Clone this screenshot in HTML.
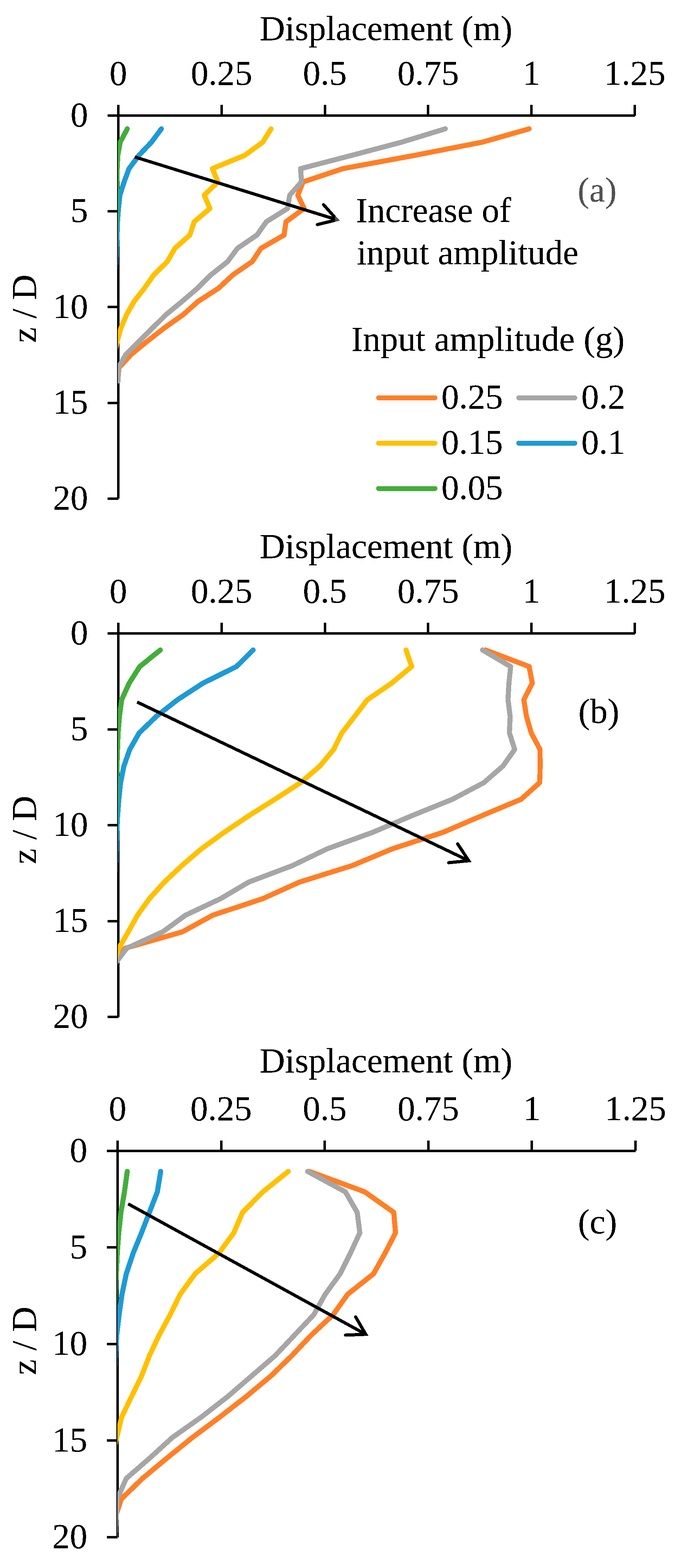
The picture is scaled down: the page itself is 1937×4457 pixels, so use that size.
<!DOCTYPE html>
<html lang="en">
<head>
<meta charset="utf-8">
<title>Displacement profiles</title>
<style>
html,body{margin:0;padding:0;background:#fff;}
body{width:1937px;height:4457px;overflow:hidden;}
svg{display:block;}
text{font-family:'Liberation Serif', serif;font-size:100px;fill:#000;}
</style>
</head>
<body>
<svg width="1937" height="4457" viewBox="0 0 1937 4457">
<defs>
<filter id="crisp" x="0" y="0" width="100%" height="100%" filterUnits="userSpaceOnUse" color-interpolation-filters="sRGB">
<feComponentTransfer><feFuncA type="discrete" tableValues="0 0 1 1 1"/></feComponentTransfer>
</filter>
<pattern id="dither" x="0" y="0" width="4" height="4" patternUnits="userSpaceOnUse">
<rect x="1" y="1" width="1" height="1" fill="#fff"/>
<rect x="3" y="1" width="1" height="1" fill="#fff"/>
<rect x="1" y="3" width="1" height="1" fill="#fff"/>
<rect x="3" y="3" width="1" height="1" fill="#fff"/>
<rect x="0" y="0" width="1" height="1" fill="#fff"/>
</pattern>
</defs>
<rect width="1937" height="4457" fill="#fff"/>
<g id="chart-a">
<g stroke="#000" stroke-width="7" fill="none" shape-rendering="crispEdges">
<line x1="306" y1="328.5" x2="1805.5" y2="328.5"/>
<line x1="336.5" y1="298" x2="336.5" y2="1417.2"/>
<line x1="630.3" y1="298" x2="630.3" y2="328.5"/>
<line x1="924.1" y1="298" x2="924.1" y2="328.5"/>
<line x1="1217.9" y1="298" x2="1217.9" y2="328.5"/>
<line x1="1511.7" y1="298" x2="1511.7" y2="328.5"/>
<line x1="1805.5" y1="298" x2="1805.5" y2="328.5"/>
<line x1="306" y1="600.67" x2="336.5" y2="600.67"/>
<line x1="306" y1="872.85" x2="336.5" y2="872.85"/>
<line x1="306" y1="1145.03" x2="336.5" y2="1145.03"/>
<line x1="306" y1="1417.2" x2="336.5" y2="1417.2"/>
</g>
<clipPath id="clip-a"><rect x="335.2" y="328.5" width="1600" height="1094.7"/></clipPath>
<g clip-path="url(#clip-a)" fill="none" stroke-width="14.5" stroke-linecap="round" stroke-linejoin="round" shape-rendering="crispEdges">
<polyline stroke="#FF7F27" points="1505,366.23 1372.5,403.96 1179,441.69 975,479.42 862,517.15 847,554.88 865,592.61 813.5,630.34 808,668.07 742.5,705.8 717.5,743.53 662.5,781.26 622,818.99 563.5,856.72 521,894.45 467.5,932.18 419,969.91 373,1007.64 338.5,1045.37 335,1083.1"/>
<polyline stroke="#A6A6A6" points="1266.5,366.23 1143,403.96 1000,441.69 855,479.42 857.5,517.15 824,554.88 818,592.61 757.5,630.34 731,668.07 675.5,705.8 647.5,743.53 600,781.26 562,818.99 518,856.72 472,894.45 434,932.18 396,969.91 358,1007.64 336.5,1045.37 336,1083.1"/>
<polyline stroke="#FFC000" points="771,366.23 747.5,403.96 696,441.69 604,479.42 620,517.15 581,554.88 597,592.61 552.5,630.34 540,668.07 497.5,705.8 476,743.53 437.5,781.26 411,818.99 381.5,856.72 360,894.45 344,932.18 333.4,969.91 325.5,1007.64 325,1045.37 325,1083.1"/>
<polyline stroke="#1E9AD6" points="459,366.23 431,403.96 395,441.69 367,479.42 353,517.15 341,554.88 337,592.61 334.1,630.34 333,668.07 331,705.8 329.9,743.53 327,781.26 326,818.99 326,856.72 326,894.45 326,932.18 326,969.91 326,1007.64 326,1045.37 326,1083.1"/>
<polyline stroke="#43AE3B" points="362,366.23 342,403.96 335,441.69 333.25,479.42 332.2,517.15 331.25,554.88 331.2,592.61 330.3,630.34 329.4,668.07 329,705.8 327.5,743.53 326,781.26 326,818.99 326,856.72 326,894.45 326,932.18 326,969.91 326,1007.64 326,1045.37 326,1083.1"/>
</g>
<line x1="383.5" y1="446.2" x2="958.65" y2="624.72" stroke="#000" stroke-width="9" stroke-linecap="butt" shape-rendering="crispEdges"/>
<polyline points="920.33,581.85 958.65,624.72 902.81,638.43" fill="none" stroke="#000" stroke-width="9" stroke-linecap="round" stroke-linejoin="miter" stroke-miterlimit="10" shape-rendering="crispEdges"/>
</g>
<g id="chart-b">
<g stroke="#000" stroke-width="7" fill="none" shape-rendering="crispEdges">
<line x1="306" y1="1800.5" x2="1805.5" y2="1800.5"/>
<line x1="336.5" y1="1770" x2="336.5" y2="2890.5"/>
<line x1="630.3" y1="1770" x2="630.3" y2="1800.5"/>
<line x1="924.1" y1="1770" x2="924.1" y2="1800.5"/>
<line x1="1217.9" y1="1770" x2="1217.9" y2="1800.5"/>
<line x1="1511.7" y1="1770" x2="1511.7" y2="1800.5"/>
<line x1="1805.5" y1="1770" x2="1805.5" y2="1800.5"/>
<line x1="306" y1="2073" x2="336.5" y2="2073"/>
<line x1="306" y1="2345.5" x2="336.5" y2="2345.5"/>
<line x1="306" y1="2618" x2="336.5" y2="2618"/>
<line x1="306" y1="2890.5" x2="336.5" y2="2890.5"/>
</g>
<clipPath id="clip-b"><rect x="335.2" y="1800.5" width="1600" height="1096"/></clipPath>
<g clip-path="url(#clip-b)" fill="none" stroke-width="14.5" stroke-linecap="round" stroke-linejoin="round" shape-rendering="crispEdges">
<polyline stroke="#FF7F27" points="1381,1847.62 1505,1894.74 1514,1941.86 1490,1988.98 1497.5,2036.1 1511,2083.22 1536,2130.34 1536.5,2177.46 1535,2224.58 1482.5,2271.7 1370,2318.82 1260,2365.94 1115,2413.06 1002.5,2460.18 852,2507.3 747.5,2554.42 605,2601.54 519,2648.66 355,2695.78 322,2742.9"/>
<polyline stroke="#A6A6A6" points="1372.5,1847.62 1452.5,1894.74 1447.5,1941.86 1445,1988.98 1451,2036.1 1449,2083.22 1464,2130.34 1430.5,2177.46 1376.5,2224.58 1287.5,2271.7 1171,2318.82 1060,2365.94 930,2413.06 832.5,2460.18 707.5,2507.3 627.5,2554.42 527.5,2601.54 463,2648.66 360,2695.78 325,2742.9"/>
<polyline stroke="#FFC000" points="1155,1847.62 1171,1894.74 1114,1941.86 1045,1988.98 1009,2036.1 972.5,2083.22 949,2130.34 910,2177.46 855,2224.58 782.5,2271.7 707.5,2318.82 637.5,2365.94 572.5,2413.06 517.5,2460.18 467.5,2507.3 425,2554.42 391,2601.54 365,2648.66 337.5,2695.78 322,2742.9"/>
<polyline stroke="#1E9AD6" points="720,1847.62 672.5,1894.74 577.5,1941.86 505,1988.98 445,2036.1 396,2083.22 369,2130.34 352.5,2177.46 343,2224.58 338,2271.7 334.5,2318.82 332,2365.94 330.5,2413.06 329,2460.18 327,2507.3 326,2554.42 326,2601.54 326,2648.66 326,2695.78 326,2742.9"/>
<polyline stroke="#43AE3B" points="456,1847.62 397.5,1894.74 367.5,1941.86 346,1988.98 339.8,2036.1 335.9,2083.22 334.25,2130.34 332.7,2177.46 331.5,2224.58 330.5,2271.7 329.5,2318.82 328.3,2365.94 327,2413.06 326,2460.18 326,2507.3 326,2554.42 326,2601.54 326,2648.66 326,2695.78 326,2742.9"/>
</g>
<line x1="390" y1="1995.5" x2="1333.41" y2="2446.64" stroke="#000" stroke-width="9" stroke-linecap="butt" shape-rendering="crispEdges"/>
<polyline points="1301.68,2398.69 1333.41,2446.64 1276.18,2452.15" fill="none" stroke="#000" stroke-width="9" stroke-linecap="round" stroke-linejoin="miter" stroke-miterlimit="10" shape-rendering="crispEdges"/>
</g>
<g id="chart-c">
<g stroke="#000" stroke-width="7" fill="none" shape-rendering="crispEdges">
<line x1="304" y1="3271.4" x2="1807.5" y2="3271.4"/>
<line x1="334.5" y1="3242" x2="334.5" y2="4369.5"/>
<line x1="629.1" y1="3242" x2="629.1" y2="3271.4"/>
<line x1="923.7" y1="3242" x2="923.7" y2="3271.4"/>
<line x1="1218.3" y1="3242" x2="1218.3" y2="3271.4"/>
<line x1="1512.9" y1="3242" x2="1512.9" y2="3271.4"/>
<line x1="1807.5" y1="3242" x2="1807.5" y2="3271.4"/>
<line x1="304" y1="3545.93" x2="334.5" y2="3545.93"/>
<line x1="304" y1="3820.45" x2="334.5" y2="3820.45"/>
<line x1="304" y1="4094.97" x2="334.5" y2="4094.97"/>
<line x1="304" y1="4369.5" x2="334.5" y2="4369.5"/>
</g>
<clipPath id="clip-c"><rect x="333.9" y="3271.4" width="1600" height="1104.1"/></clipPath>
<g clip-path="url(#clip-c)" fill="none" stroke-width="14.5" stroke-linecap="round" stroke-linejoin="round" shape-rendering="crispEdges">
<polyline stroke="#FF7F27" points="880,3329.7 1037.5,3387.9 1120,3446.1 1125,3504.3 1095,3562.5 1062.5,3620.7 989,3678.9 947.5,3737.1 885,3795.3 830,3853.5 770,3911.7 700,3969.9 625,4028.1 547,4086.3 475,4144.5 405,4202.7 345,4260.9 326,4319.1 325,4377.3 325,4435.5"/>
<polyline stroke="#A6A6A6" points="875,3329.7 982.5,3387.9 1016,3446.1 1023.5,3504.3 996.5,3562.5 967.5,3620.7 925,3678.9 892.5,3737.1 837.5,3795.3 782.5,3853.5 715,3911.7 647.5,3969.9 572.5,4028.1 490,4086.3 426,4144.5 359,4202.7 333.4,4260.9 330.3,4319.1 327.1,4377.3 324,4435.5"/>
<polyline stroke="#FFC000" points="820,3329.7 747.5,3387.9 690,3446.1 665,3504.3 622.5,3562.5 555,3620.7 512.5,3678.9 484,3737.1 452.5,3795.3 425,3853.5 402.5,3911.7 374,3969.9 346,4028.1 332,4086.3 319,4144.5 319,4202.7 319,4260.9 319,4319.1 319,4377.3 319,4435.5"/>
<polyline stroke="#1E9AD6" points="457,3329.7 447.5,3387.9 425,3446.1 402.5,3504.3 378.6,3562.5 359.2,3620.7 347,3678.9 338.8,3737.1 332,3795.3 328.5,3853.5 326,3911.7 324,3969.9 324,4028.1 324,4086.3 324,4144.5 324,4202.7 324,4260.9 324,4319.1 324,4377.3 324,4435.5"/>
<polyline stroke="#43AE3B" points="362,3329.7 354,3387.9 344,3446.1 337.8,3504.3 333.5,3562.5 330.9,3620.7 328.8,3678.9 327,3737.1 326,3795.3 324,3853.5 324,3911.7 324,3969.9 324,4028.1 324,4086.3 324,4144.5 324,4202.7 324,4260.9 324,4319.1 324,4377.3 324,4435.5"/>
</g>
<line x1="364.5" y1="3422" x2="1040.34" y2="3792.79" stroke="#000" stroke-width="9" stroke-linecap="butt" shape-rendering="crispEdges"/>
<polyline points="1011.42,3743.1 1040.34,3792.79 982.89,3795" fill="none" stroke="#000" stroke-width="9" stroke-linecap="round" stroke-linejoin="miter" stroke-miterlimit="10" shape-rendering="crispEdges"/>
</g>
<line x1="1076.7" y1="1130.8" x2="1237.3" y2="1130.8" stroke="#FF7F27" stroke-width="14" stroke-linecap="round" shape-rendering="crispEdges"/>
<line x1="1475.4" y1="1130.8" x2="1635" y2="1130.8" stroke="#A6A6A6" stroke-width="14" stroke-linecap="round" shape-rendering="crispEdges"/>
<line x1="1076.7" y1="1259.7" x2="1237.3" y2="1259.7" stroke="#FFC000" stroke-width="14" stroke-linecap="round" shape-rendering="crispEdges"/>
<line x1="1475.4" y1="1259.7" x2="1635" y2="1259.7" stroke="#1E9AD6" stroke-width="14" stroke-linecap="round" shape-rendering="crispEdges"/>
<line x1="1076.7" y1="1388.6" x2="1237.3" y2="1388.6" stroke="#43AE3B" stroke-width="14" stroke-linecap="round" shape-rendering="crispEdges"/>
<g id="labels" filter="url(#crisp)">
<text x="738.4" y="114">Displacement (m)</text>
<text x="336.5" y="241" text-anchor="middle">0</text>
<text x="630.3" y="241" text-anchor="middle">0.25</text>
<text x="924.1" y="241" text-anchor="middle">0.5</text>
<text x="1217.9" y="241" text-anchor="middle">0.75</text>
<text x="1511.7" y="241" text-anchor="middle">1</text>
<text x="1805.5" y="241" text-anchor="middle">1.25</text>
<text x="250.6" y="359.3" text-anchor="end">0</text>
<text x="250.6" y="631.47" text-anchor="end">5</text>
<text x="250.6" y="903.65" text-anchor="end">10</text>
<text x="250.6" y="1175.83" text-anchor="end">15</text>
<text x="250.6" y="1448" text-anchor="end">20</text>
<text transform="translate(102,877.5) rotate(-90)" text-anchor="middle">z / D</text>
<text x="1643" y="572.7">(a)</text>
<text x="738.4" y="1586">Displacement (m)</text>
<text x="336.5" y="1713" text-anchor="middle">0</text>
<text x="630.3" y="1713" text-anchor="middle">0.25</text>
<text x="924.1" y="1713" text-anchor="middle">0.5</text>
<text x="1217.9" y="1713" text-anchor="middle">0.75</text>
<text x="1511.7" y="1713" text-anchor="middle">1</text>
<text x="1805.5" y="1713" text-anchor="middle">1.25</text>
<text x="250.6" y="1831.3" text-anchor="end">0</text>
<text x="250.6" y="2103.8" text-anchor="end">5</text>
<text x="250.6" y="2376.3" text-anchor="end">10</text>
<text x="250.6" y="2648.8" text-anchor="end">15</text>
<text x="250.6" y="2921.3" text-anchor="end">20</text>
<text transform="translate(102,2359) rotate(-90)" text-anchor="middle">z / D</text>
<text x="1645" y="2055">(b)</text>
<text x="738.4" y="3047.7">Displacement (m)</text>
<text x="334.5" y="3184" text-anchor="middle">0</text>
<text x="629.1" y="3184" text-anchor="middle">0.25</text>
<text x="923.7" y="3184" text-anchor="middle">0.5</text>
<text x="1218.3" y="3184" text-anchor="middle">0.75</text>
<text x="1512.9" y="3184" text-anchor="middle">1</text>
<text x="1807.5" y="3184" text-anchor="middle">1.25</text>
<text x="248.6" y="3302.2" text-anchor="end">0</text>
<text x="248.6" y="3576.73" text-anchor="end">5</text>
<text x="248.6" y="3851.25" text-anchor="end">10</text>
<text x="248.6" y="4125.77" text-anchor="end">15</text>
<text x="248.6" y="4400.3" text-anchor="end">20</text>
<text transform="translate(102,3811.3) rotate(-90)" text-anchor="middle">z / D</text>
<text x="1644" y="3506">(c)</text>
<text x="1012.3" y="630.6">Increase of</text>
<text x="1015" y="750.6">input amplitude</text>
<text x="999" y="997">Input amplitude (g)</text>
<text x="1255.5" y="1161">0.25</text>
<text x="1653.5" y="1161">0.2</text>
<text x="1255.5" y="1290">0.15</text>
<text x="1653.5" y="1290">0.1</text>
<text x="1255.5" y="1419">0.05</text>
</g>
<rect x="953" y="600" width="24" height="50" fill="url(#dither)" shape-rendering="crispEdges"/>
<rect x="1636" y="488" width="128" height="116" fill="url(#dither)" shape-rendering="crispEdges"/>
</svg>
</body>
</html>
